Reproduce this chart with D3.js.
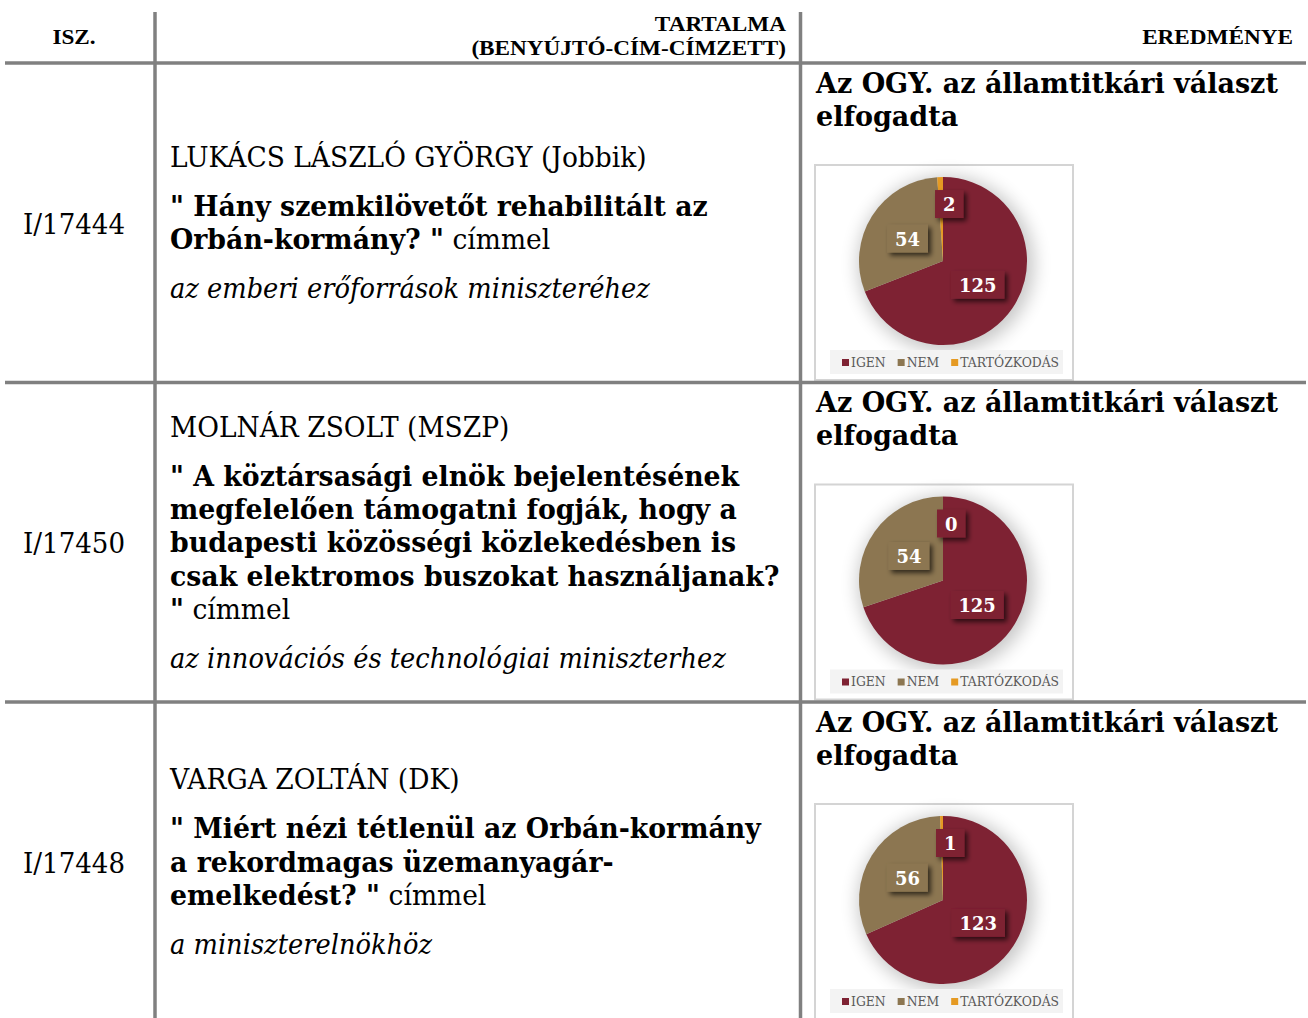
<!DOCTYPE html>
<html>
<head>
<meta charset="utf-8">
<script src="https://cdn.jsdelivr.net/npm/d3@7"></script>
<style>
  body { margin: 0; background: #fff; }
  svg { display: block; }
</style>
</head>
<body>
<svg id="chart" width="1308" height="1018"></svg>
<script>
// data
const headers = ['ISZ.', ['TARTALMA', '(BENYÚJTÓ-CÍM-CÍMZETT)'], 'EREDMÉNYE'];
const ids = ['I/17444', 'I/17450', 'I/17448'];
const names = ['LUKÁCS LÁSZLÓ GYÖRGY (Jobbik)', 'MOLNÁR ZSOLT (MSZP)', 'VARGA ZOLTÁN (DK)'];
const questions = [
    ['" Hány szemkilövetőt rehabilitált az', 'Orbán-kormány? "'],
    ['" A köztársasági elnök bejelentésének', 'megfelelően támogatni fogják, hogy a',
     'budapesti közösségi közlekedésben is', 'csak elektromos buszokat használjanak?', '"'],
    ['" Miért nézi tétlenül az Orbán-kormány', 'a rekordmagas üzemanyagár-', 'emelkedést? "']
];
const suffix = 'címmel';
const recipients = ['az emberi erőforrások miniszteréhez', 'az innovációs és technológiai miniszterhez', 'a miniszterelnökhöz'];
const results = [
    ['Az OGY. az államtitkári választ', 'elfogadta'],
    ['Az OGY. az államtitkári választ', 'elfogadta'],
    ['Az OGY. az államtitkári választ', 'elfogadta']
];
const categories = ['IGEN', 'NEM', 'TARTÓZKODÁS'];
const igen = [125, 125, 123];
const nem = [54, 54, 56];
const tartozkodas = [2, 0, 1];
const colors = ['#7e2233', '#8c7651', '#e59a23'];

const W = 1308, H = 1018;
const svg = d3.select('#chart');
const lineColor = '#808080';

// styles : font + width of one reference string, used to condense the fallback font
const styles = {
    head:   {family: 'Liberation Serif', weight: 700, fstyle: 'normal', size: 20, ref: 'EREDMÉNYE', refW: 151},
    id:     {family: 'DejaVu Serif', weight: 400, fstyle: 'normal', size: 27, ref: 'I/17444', refW: 102},
    name:   {family: 'DejaVu Serif', weight: 400, fstyle: 'normal', size: 27, ref: 'LUKÁCS LÁSZLÓ GYÖRGY (Jobbik)', refW: 477},
    bold:   {family: 'DejaVu Serif', weight: 700, fstyle: 'normal', size: 27, ref: '" Hány szemkilövetőt rehabilitált az', refW: 538},
    italic: {family: 'DejaVu Serif', weight: 400, fstyle: 'italic', size: 27, ref: 'az emberi erőforrások miniszteréhez', refW: 480},
    title:  {family: 'DejaVu Serif', weight: 700, fstyle: 'normal', size: 28, ref: 'Az OGY. az államtitkári választ', refW: 462},
    legend: {family: 'DejaVu Serif', weight: 400, fstyle: 'normal', size: 12.5, ref: 'TARTÓZKODÁS', refW: 99},
    label:  {family: 'DejaVu Serif', weight: 700, fstyle: 'normal', size: 19, ref: '54', refW: 25}
};

function applyStyle(t, s) {
    return t.attr('font-family', s.family)
        .attr('font-weight', s.weight)
        .attr('font-style', s.fstyle)
        .attr('font-size', s.size);
}
const measure = applyStyle(svg.append('text').attr('x', -1000).attr('y', -1000), styles.name);
function textW(str, s) {
    applyStyle(measure, s).text(str);
    return measure.node().getComputedTextLength();
}
Object.values(styles).forEach(function (s) { s.k = s.refW / textW(s.ref, s); });

// draw one line of text, condensed, anchored at x
function drawText(g, str, s, x, y, anchor, fill) {
    anchor = anchor || 'start';
    const t = applyStyle(g.append('text'), s)
        .attr('x', 0).attr('y', 0)
        .attr('text-anchor', anchor)
        .attr('fill', fill || '#000')
        .attr('transform', 'translate(' + x + ',' + y + ') scale(' + s.k + ',1)')
        .text(str);
    return textW(str, s) * s.k;
}

// layout
const colEdges = [0, 156, 801, W];
const rows = d3.scaleBand().domain(d3.range(ids.length)).range([63, 63 + 3 * 319.5]);
const gText = svg.append('g');

// header
drawText(gText, headers[0], styles.head, 74, 44, 'middle');
drawText(gText, headers[1][0], styles.head, 786, 31, 'end');
drawText(gText, headers[1][1], styles.head, 786, 55, 'end');
drawText(gText, headers[2], styles.head, 1293, 44, 'end');

// rows
const pie = d3.pie().sort(null).value(function (d) { return d; });
const R = 84;
const arc = d3.arc().innerRadius(0).outerRadius(R);

const defs = svg.append('defs');
const sh = defs.append('filter').attr('id', 'lblShadow')
    .attr('x', '-50%').attr('y', '-50%').attr('width', '220%').attr('height', '220%');
sh.append('feDropShadow').attr('dx', 3).attr('dy', 3).attr('stdDeviation', 2.5)
    .attr('flood-color', '#000').attr('flood-opacity', 0.65);
defs.append('filter').attr('id', 'glow')
    .attr('x', '-50%').attr('y', '-50%').attr('width', '200%').attr('height', '200%')
    .append('feGaussianBlur').attr('stdDeviation', 9);

ids.forEach(function (id, i) {
    const top = rows(i), bh = rows.bandwidth(), cy = top + bh / 2;
    // column 1
    drawText(gText, id, styles.id, (colEdges[0] + colEdges[1]) / 2 - 4, cy + 11, 'middle');
    // column 2
    const q = questions[i];
    const span = 49 + (q.length - 1) * 33.3 + 49;
    const y0 = cy - span / 2 + 10;
    const x0 = 170;
    drawText(gText, names[i], styles.name, x0, y0);
    q.forEach(function (line, j) {
        const y = y0 + 49 + j * 33.3;
        const w = drawText(gText, line, styles.bold, x0, y);
        if (j === q.length - 1) {
            drawText(gText, '\u00a0' + suffix, styles.name, x0 + w, y);
        }
    });
    drawText(gText, recipients[i], styles.italic, x0, y0 + span);
    // column 3 : result + pie
    results[i].forEach(function (line, j) {
        drawText(gText, line, styles.title, 816, top + 29.5 + j * 33);
    });

    const bx = 815, by = top + 102, bw = 258, bhh = 215;
    const g = svg.append('g').attr('transform', 'translate(' + bx + ',' + by + ')');
    g.append('rect').attr('x', 0).attr('y', 0).attr('width', bw).attr('height', bhh)
        .attr('fill', '#fff').attr('stroke', '#d4d4d4').attr('stroke-width', 2);

    const vals = [igen[i], nem[i], tartozkodas[i]];
    const total = d3.sum(vals);
    const gp = g.append('g').attr('transform', 'translate(128,96)');
    gp.append('circle').attr('r', R + 4).attr('cx', 3).attr('cy', 3)
        .attr('fill', '#000').attr('opacity', 0.22).attr('filter', 'url(#glow)');
    const arcs = pie(vals);
    gp.selectAll('path.slice').data(arcs).enter().append('path')
        .attr('class', 'slice')
        .attr('d', arc)
        .attr('fill', function (d, k) { return colors[k]; });

    // data labels
    arcs.forEach(function (d, k) {
        const small = d.value / total < 0.05;
        const mid = (d.startAngle + d.endAngle) / 2;
        const rr = small ? 57 : 42;
        const txt = String(d.value);
        const tw = textW(txt, styles.label) * styles.label.k;
        let lx = Math.sin(mid) * rr, ly = -Math.cos(mid) * rr;
        if (small) lx = lx + tw / 2 + 2;
        const fill = small ? colors[0] : colors[k];
        gp.append('rect')
            .attr('x', lx - tw / 2 - 8).attr('y', ly - 14)
            .attr('width', tw + 16).attr('height', 28)
            .attr('fill', fill)
            .attr('filter', 'url(#lblShadow)');
        drawText(gp, txt, styles.label, lx, ly + 7, 'middle', '#fff');
    });

    // legend
    g.append('rect').attr('x', 15).attr('y', 185).attr('width', 233).attr('height', 24)
        .attr('fill', '#f3f3f3');
    let lx = 27;
    categories.forEach(function (c, k) {
        g.append('rect').attr('x', lx).attr('y', 194).attr('width', 7).attr('height', 7)
            .attr('fill', colors[k]);
        const w = drawText(g, c, styles.legend, lx + 9, 201.5, 'start', '#595959');
        lx += 9 + w + 12;
    });
});

// grid lines
const gl = svg.append('g').attr('stroke', lineColor).attr('stroke-width', 3.5);
gl.selectAll('line.h').data([63, rows(1), rows(2)]).enter().append('line')
    .attr('class', 'h')
    .attr('x1', 5).attr('x2', W - 2)
    .attr('y1', function (d) { return d; }).attr('y2', function (d) { return d; });
gl.selectAll('line.v').data([colEdges[1] - 1, colEdges[2] - 0.5]).enter().append('line')
    .attr('class', 'v')
    .attr('x1', function (d) { return d; }).attr('x2', function (d) { return d; })
    .attr('y1', 12).attr('y2', H);

measure.remove();
</script>
</body>
</html>
